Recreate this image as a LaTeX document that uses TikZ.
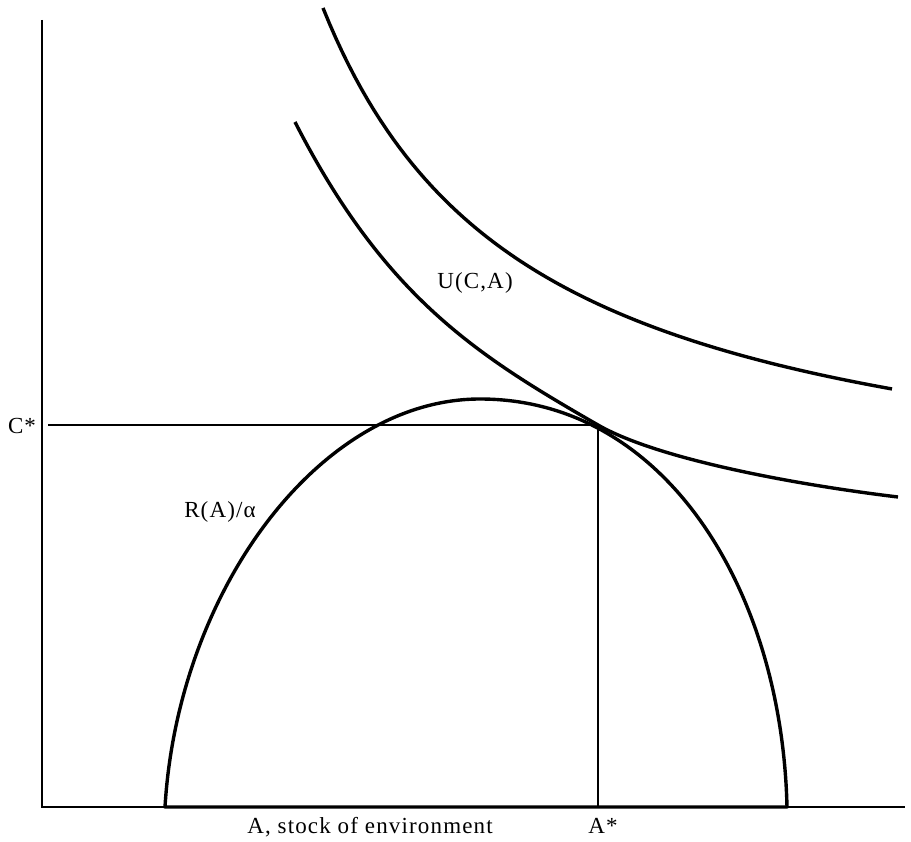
\documentclass[tikz,border=0pt]{standalone}
\usepackage{fontspec}
\setmainfont[LetterSpace=5]{Liberation Serif}
\begin{document}
\begin{tikzpicture}[x=1pt,y=-1pt,
  lab/.style={font=\fontsize{23}{27}\selectfont, inner sep=0pt, anchor=base},
  curve/.style={line width=3.4pt, line join=round},
  axis/.style={line width=2pt},
  guide/.style={line width=1.3pt}]
\useasboundingbox (0,0) rectangle (911,842);
% axes
\coordinate (ytop) at (42,20);
\coordinate (O) at (42,807);
\coordinate (xend) at (905,807);
\draw[axis] (ytop) -- (O) -- (xend);
% hump R(A)/alpha
\coordinate (L) at (165,807);
\coordinate (P) at (480,399);
\coordinate (R) at (787,807);
\draw[curve] (L) .. controls (178,590) and (320,399) .. (P)
             .. controls (665,399) and (782,590) .. (R) -- cycle;
% guides
\coordinate (Cl) at (48,425);
\coordinate (T) at (598,425);
\coordinate (Tb) at (598,807);
\draw[guide] (Cl) -- (T) -- (Tb);
% indifference curves
\coordinate (U1s) at (295,122);
\coordinate (U1e) at (898,497);
\draw[curve] (U1s) .. controls (385,298) and (478,356) .. (T)
             .. controls (658,459.5) and (798,485) .. (U1e);
\draw[curve] plot[domain=323:892, samples=90] (\x, {528.7 - 1086.77/((\x-114.3)/100)});
% labels
\node[lab] (cstar) at (22,433) {C*};
\node[lab] (ra) at (220,517) {R(A)/α};
\node[lab] (uca) at (475,289) {U(C,A)};
\node[lab] (xlab) at (370,833) {A, stock of environment};
\node[lab] (astar) at (603,833) {A*};
\end{tikzpicture}
\end{document}
